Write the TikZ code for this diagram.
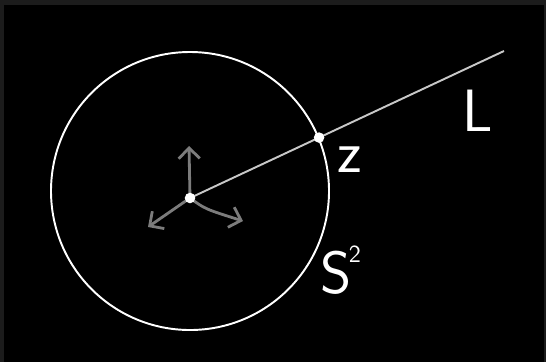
\documentclass[tikz,border=0pt]{standalone}
\usepackage{tikz}
\usetikzlibrary{arrows.meta,calc}
\definecolor{frame}{HTML}{1C1C1C}
\definecolor{axisgray}{HTML}{7C7C7C}
\definecolor{linegray}{HTML}{C8C8C8}
\tikzset{
  sphere/.style={draw=white,line width=1.1pt},
  ray/.style={draw=linegray,line width=1.1pt},
  axis/.style={draw=axisgray,line width=1.6pt,-{Straight Barb[length=6pt,width=12pt]},line cap=round},
  dot/.style={circle,fill=white,inner sep=0pt,minimum size=6pt},
  lab/.style={text=white,font=\sffamily\fontsize{34}{34}\selectfont,inner sep=0pt}
}

\begin{document}
\begin{tikzpicture}[x=0.02cm,y=-0.02cm]
% frame and background
\fill[frame] (0,0) rectangle (546,362);
\fill[black] (4,5) rectangle (544,362);
\useasboundingbox (0,0) rectangle (546,362);

\draw[sphere] (190,191) circle (139);

\coordinate (o) at (190,198);
\coordinate (lend) at (504,51);
\coordinate (up) at (189,146);
\coordinate (dl) at (148,227);
\coordinate (dr) at (243,221);

% frame vectors
\draw[axis] (o) -- (up);
\draw[axis] (o) -- (dl);
\draw[axis] (o) .. controls (205,209) .. (dr);

% the line through the sphere
\draw[ray] (o) -- (lend);
\node[dot] (c) at (o) {};
\node[dot] (p) at ($(o)!0.411!(lend)$) {};

\node[lab] (zlab) at (350,160) {z};
\node[lab] (llab) at (478,111) {L};
\node[lab] (slab) at (336,273) {S};
\node[text=white,font=\sffamily\fontsize{14}{14}\selectfont,inner sep=0pt] (sup) at (355,254) {2};
\end{tikzpicture}
\end{document}
